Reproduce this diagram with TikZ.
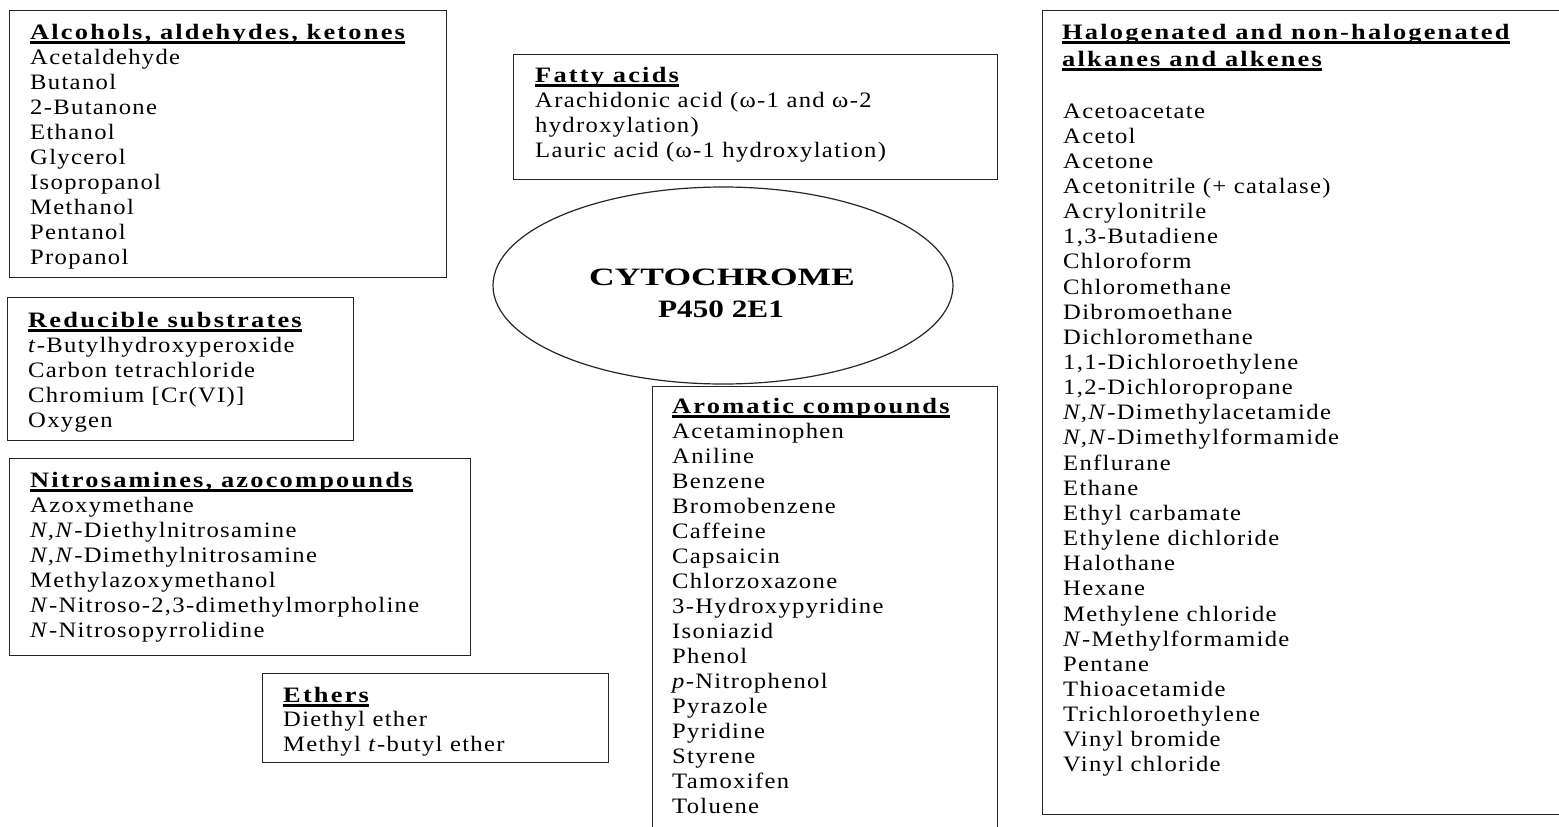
\documentclass[tikz,border=0pt]{standalone}
\usepackage{fontspec}
\setmainfont{Liberation Serif}[LetterSpace=6,FakeStretch=1.12]
\newfontfamily\hdfont{Liberation Serif}[LetterSpace=10,FakeStretch=1.2]
\newfontfamily\cytA{Liberation Serif}[FakeStretch=1.42]
\newfontfamily\cytB{Liberation Serif}[FakeStretch=1.25]
\usetikzlibrary{shapes.geometric}
\newcommand\hdr[1]{\setbox0\hbox{\hdfont\bfseries #1}\rlap{\vrule height -2.2pt depth 4.8pt width \wd0}\box0}
\newcommand\cpd[1]{\hbox{#1}}
\newcommand\cpdlist[2]{\vtop{\baselineskip=#1\lineskiplimit=-40pt\lineskip=0pt #2}}
\tikzset{
  box/.style={draw=black!85, line width=1.3pt, inner sep=0pt, anchor=north west},
  txt/.style={anchor=base west, inner sep=0pt, font=\fontsize{22}{25}\selectfont},
  cyptxt/.style={anchor=base, inner sep=0pt, font=\fontsize{25}{30}\selectfont},
}
\begin{document}
\begin{tikzpicture}[x=1pt,y=-1pt]
\useasboundingbox (0,0) rectangle (1559,827);
\fill[white] (0,0) rectangle (1559,827);
% boxes
\node[box, minimum width=437pt, minimum height=267pt] (alcB) at (9,10) {};
\node[box, minimum width=484pt, minimum height=125pt] (fatB) at (513,54) {};
\node[box, minimum width=346pt, minimum height=143pt] (redB) at (7,297) {};
\node[box, minimum width=461pt, minimum height=197pt] (nitB) at (9,458) {};
\node[box, minimum width=346pt, minimum height=89pt] (ethB) at (262,673) {};
\node[box, minimum width=345pt, minimum height=460pt] (aroB) at (652,386) {};
\node[box, minimum width=530pt, minimum height=804pt] (halB) at (1042,10) {};
% central ellipse
\node[draw=black!85, line width=1.2pt, ellipse, inner sep=0pt, minimum width=460pt, minimum height=197pt] (cyp) at (723,285.5) {};
\node[cyptxt] (cyp1) at (722,285) {\cytA\bfseries CYTOCHROME};
\node[cyptxt] (cyp2) at (721,317) {\cytB\bfseries P450 2E1};
% texts
\node[txt] (alcT) at (30,39) {\cpdlist{25pt}{%
  \cpd{\hdr{Alcohols, aldehydes, ketones}}
  \cpd{Acetaldehyde}\cpd{Butanol}\cpd{2-Butanone}\cpd{Ethanol}\cpd{Glycerol}
  \cpd{Isopropanol}\cpd{Methanol}\cpd{Pentanol}\cpd{Propanol}}};
\node[txt] (fatT) at (535,82) {\cpdlist{25pt}{%
  \cpd{\hdr{Fatty acids}}
  \cpd{Arachidonic acid (ω-1 and ω-2}\cpd{hydroxylation)}
  \cpd{Lauric acid (ω-1 hydroxylation)}}};
\node[txt] (redT) at (28,327) {\cpdlist{25pt}{%
  \cpd{\hdr{Reducible substrates}}
  \cpd{\textit{t}-Butylhydroxyperoxide}\cpd{Carbon tetrachloride}
  \cpd{Chromium [Cr(VI)]}\cpd{Oxygen}}};
\node[txt] (nitT) at (30,487) {\cpdlist{25pt}{%
  \cpd{\hdr{Nitrosamines, azocompounds}}
  \cpd{Azoxymethane}\cpd{\textit{N,N}-Diethylnitrosamine}
  \cpd{\textit{N,N}-Dimethylnitrosamine}\cpd{Methylazoxymethanol}
  \cpd{\textit{N}-Nitroso-2,3-dimethylmorpholine}\cpd{\textit{N}-Nitrosopyrrolidine}}};
\node[txt] (ethT) at (283,702) {\cpdlist{24.5pt}{%
  \cpd{\hdr{Ethers}}
  \cpd{Diethyl ether}\cpd{Methyl \textit{t}-butyl ether}}};
\node[txt] (aroT) at (672,413) {\cpdlist{25pt}{%
  \cpd{\hdr{Aromatic compounds}}
  \cpd{Acetaminophen}\cpd{Aniline}\cpd{Benzene}\cpd{Bromobenzene}\cpd{Caffeine}
  \cpd{Capsaicin}\cpd{Chlorzoxazone}\cpd{3-Hydroxypyridine}\cpd{Isoniazid}
  \cpd{Phenol}\cpd{\textit{p}-Nitrophenol}\cpd{Pyrazole}\cpd{Pyridine}
  \cpd{Styrene}\cpd{Tamoxifen}\cpd{Toluene}}};
\node[txt] (halH) at (1062,39) {\cpdlist{27pt}{%
  \cpd{\hdr{Halogenated and non-halogenated}}
  \cpd{\hdr{alkanes and alkenes}}}};
\node[txt] (halT) at (1063,118) {\cpdlist{25.15pt}{%
  \cpd{Acetoacetate}\cpd{Acetol}\cpd{Acetone}\cpd{Acetonitrile (+ catalase)}
  \cpd{Acrylonitrile}\cpd{1,3-Butadiene}\cpd{Chloroform}\cpd{Chloromethane}
  \cpd{Dibromoethane}\cpd{Dichloromethane}\cpd{1,1-Dichloroethylene}
  \cpd{1,2-Dichloropropane}\cpd{\textit{N,N}-Dimethylacetamide}
  \cpd{\textit{N,N}-Dimethylformamide}\cpd{Enflurane}\cpd{Ethane}
  \cpd{Ethyl carbamate}\cpd{Ethylene dichloride}\cpd{Halothane}\cpd{Hexane}
  \cpd{Methylene chloride}\cpd{\textit{N}-Methylformamide}\cpd{Pentane}
  \cpd{Thioacetamide}\cpd{Trichloroethylene}\cpd{Vinyl bromide}\cpd{Vinyl chloride}}};
\end{tikzpicture}
\end{document}
